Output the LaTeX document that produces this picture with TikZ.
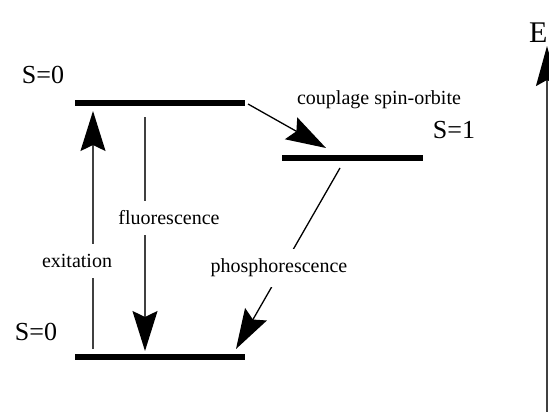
\documentclass[tikz,border=0pt]{standalone}
\usepackage{fontspec}
\setmainfont{Liberation Serif}
\usetikzlibrary{arrows.meta}
\begin{document}
\begin{tikzpicture}[x=1pt,y=-1pt,
  level/.style={line width=6.5pt,black},
  trans/.style={line width=1.3pt,draw=black!75,-{Stealth[length=40pt,width=25pt,inset=6pt,color=black]}},
  lbl/.style={fill=white,inner xsep=3pt,inner ysep=10pt,font=\fontsize{20}{24}\selectfont},
  spin/.style={font=\fontsize{26}{30}\selectfont,inner sep=0pt}]
\useasboundingbox (0,0) rectangle (549,412);
\clip (0,0) rectangle (549,412);
\fill[white] (0,0) rectangle (549,412);
% level ends
\coordinate (s0tl) at (75,103);
\coordinate (s0tr) at (245,103);
\coordinate (s1l) at (282,158);
\coordinate (s1r) at (423,158);
\coordinate (s0bl) at (75,357);
\coordinate (s0br) at (245,357);
% levels
\draw[level] (s0tl) -- (s0tr);
\draw[level] (s1l) -- (s1r);
\draw[level] (s0bl) -- (s0br);
% transition end points
\coordinate (exA) at (93,349);
\coordinate (exB) at (93,111);
\coordinate (flA) at (145,117);
\coordinate (flB) at (145,351);
\coordinate (cpA) at (248,104);
\coordinate (cpB) at (326,148);
\coordinate (phA) at (340,168);
\coordinate (phB) at (236,349);
\coordinate (axA) at (547,420);
\coordinate (axB) at (547,46);
% transitions
\draw[trans] (exA) -- (exB);
\draw[trans] (flA) -- (flB);
\draw[trans,draw=black] (cpA) -- (cpB);
\draw[trans,draw=black] (phA) -- (phB);
\draw[trans,line width=1.5pt,-{Stealth[length=40pt,width=22pt,inset=6pt,color=black]}] (axA) -- (axB);
% labels
\node[lbl] (lex) at (77,261) {exitation};
\node[lbl] (lfl) at (169,218) {fluorescence};
\node[lbl] (lph) at (279,268) {phosphorescence};
\node[font=\fontsize{20}{24}\selectfont,inner sep=0pt] (lcp) at (379,100) {couplage spin-orbite};
\node[spin] (ls0t) at (43,75) {S=0};
\node[spin] (ls1) at (454,130) {S=1};
\node[spin] (ls0b) at (36,332) {S=0};
\node[font=\fontsize{30}{34}\selectfont,inner sep=0pt,anchor=base west] (lE) at (529,43) {E};
\end{tikzpicture}
\end{document}
